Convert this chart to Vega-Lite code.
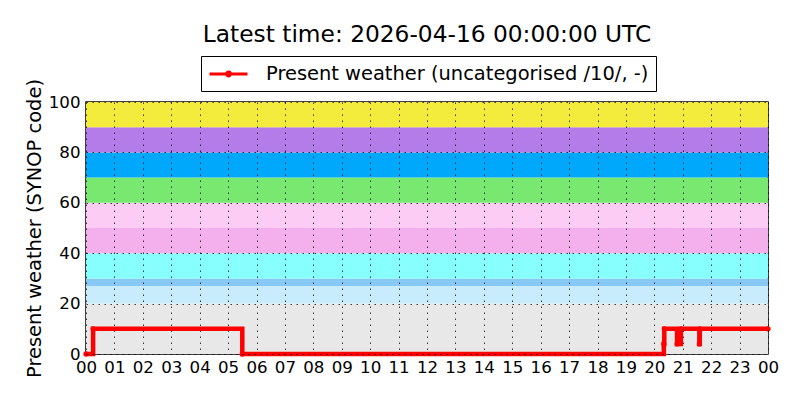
{
  "$schema": "https://vega.github.io/schema/vega-lite/v6.json",
  "autosize": {"type": "none"},
  "padding": {"left": 86, "top": 102, "right": 32, "bottom": 46},
  "width": 682,
  "height": 252,
  "background": "white",
  "title": {
    "text": "Latest time: 2026-04-16 00:00:00 UTC",
    "font": "DejaVu Sans",
    "fontSize": 23.3,
    "fontWeight": "normal",
    "color": "black",
    "anchor": "middle",
    "offset": 8
  },
  "config": {
    "view": {"stroke": "black", "strokeWidth": 1.5},
    "axis": {
      "labelFont": "DejaVu Sans",
      "labelFontSize": 16.67,
      "labelColor": "black",
      "titleFont": "DejaVu Sans",
      "titleFontSize": 19.44,
      "titleFontWeight": "normal",
      "titleColor": "black",
      "domain": false,
      "ticks": false,
      "grid": true,
      "gridColor": "black",
      "gridDash": [1.5, 4.5],
      "gridWidth": 1,
      "gridOpacity": 0.75
    },
    "legend": {
      "labelFont": "DejaVu Sans",
      "labelFontSize": 19.44,
      "labelColor": "black",
      "labelLimit": 0
    }
  },
  "datasets": {
    "bands": [
      {"lo": 0, "hi": 20, "cls": "a"},
      {"lo": 20, "hi": 27, "cls": "b"},
      {"lo": 27, "hi": 30, "cls": "c"},
      {"lo": 30, "hi": 40, "cls": "d"},
      {"lo": 40, "hi": 50, "cls": "e"},
      {"lo": 50, "hi": 60, "cls": "f"},
      {"lo": 60, "hi": 70, "cls": "g"},
      {"lo": 70, "hi": 80, "cls": "h"},
      {"lo": 80, "hi": 90, "cls": "i"},
      {"lo": 90, "hi": 100, "cls": "j"}
    ],
    "obs": [
      {"t": "2026-04-15T00:00:00Z", "ww": 0},
      {"t": "2026-04-15T00:15:00Z", "ww": 10},
      {"t": "2026-04-15T05:30:00Z", "ww": 0},
      {"t": "2026-04-15T20:20:00Z", "ww": 4},
      {"t": "2026-04-15T20:21:00Z", "ww": 10},
      {"t": "2026-04-15T20:48:00Z", "ww": 4},
      {"t": "2026-04-15T20:56:00Z", "ww": 10},
      {"t": "2026-04-15T21:35:00Z", "ww": 4},
      {"t": "2026-04-15T21:36:00Z", "ww": 10},
      {"t": "2026-04-16T00:00:00Z", "ww": 10}
    ]
  },
  "layer": [
    {
      "data": {"name": "bands"},
      "mark": {"type": "rect"},
      "encoding": {
        "y": {"field": "lo", "type": "quantitative", "scale": {"domain": [0, 100]},
              "axis": {"title": "Present weather (SYNOP code)", "values": [0, 20, 40, 60, 80, 100], "labelPadding": 6, "titlePadding": 4, "zindex": 1}},
        "y2": {"field": "hi"},
        "fill": {
          "field": "cls", "type": "nominal", "legend": null,
          "scale": {
            "domain": ["a", "b", "c", "d", "e", "f", "g", "h", "i", "j"],
            "range": ["#e8e8e8", "#c8ecfc", "#88c8f4", "#88ffff", "#f4b0ec", "#fcccf4", "#78e870", "#00a8fc", "#b47ce8", "#f4ec3c"]
          }
        }
      }
    },
    {
      "data": {"name": "obs"},
      "mark": {"type": "line", "interpolate": "step-after", "strokeWidth": 4.5},
      "encoding": {
        "x": {
          "field": "t",
          "type": "temporal",
          "scale": {"type": "utc", "domain": ["2026-04-15T00:00:00Z", "2026-04-16T00:00:00Z"]},
          "axis": {
            "title": null,
            "format": "%H",
            "tickCount": 24,
            "labelOverlap": false,
            "labelFlush": false,
            "labelBound": false,
            "labelPadding": 5,
            "zindex": 1
          }
        },
        "y": {"field": "ww", "type": "quantitative"},
        "stroke": {
          "datum": "Present weather (uncategorised /10/, -)",
          "type": "nominal",
          "scale": {"range": ["red"]},
          "legend": {
            "title": null,
            "orient": "none",
            "legendX": 115,
            "legendY": -46,
            "strokeColor": "black",
            "fillColor": "white",
            "padding": 7,
            "symbolType": "M-1,0H3M0.8,0A0.2,0.2,0,1,1,1.2,0A0.2,0.2,0,1,1,0.8,0Z",
            "symbolSize": 361,
            "symbolStrokeWidth": 3,
            "symbolFillColor": "red",
            "labelOffset": 36
          }
        }
      }
    },
    {
      "data": {"name": "obs"},
      "mark": {"type": "point", "filled": true, "color": "red", "size": 28, "opacity": 1},
      "encoding": {
        "x": {"field": "t", "type": "temporal", "scale": {"type": "utc"}},
        "y": {"field": "ww", "type": "quantitative"}
      }
    }
  ]
}
